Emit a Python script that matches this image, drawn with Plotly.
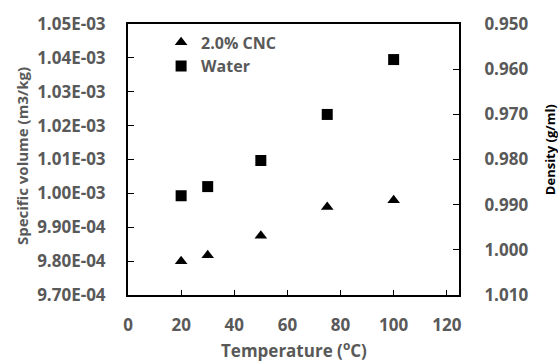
import plotly.graph_objects as go

temps = [20, 30, 50, 75, 100]
cnc_sv = [0.0009800, 0.0009817, 0.0009875, 0.0009960, 0.0009980]
water_sv = [0.0009993, 0.0010020, 0.0010097, 0.0010233, 0.0010395]
left_ticks = [0.00097, 0.00098, 0.00099, 0.00100, 0.00101, 0.00102, 0.00103, 0.00104, 0.00105]
left_labels = ["9.70E-04", "9.80E-04", "9.90E-04", "1.00E-03", "1.01E-03", "1.02E-03", "1.03E-03", "1.04E-03", "1.05E-03"]
right_ticks = [0.95, 0.96, 0.97, 0.98, 0.99, 1.00, 1.01]
right_labels = ["0.950", "0.960", "0.970", "0.980", "0.990", "1.000", "1.010"]

FONT = "Open Sans"
GREY = "#595959"

def f(size, color=GREY):
    return dict(family=FONT, size=size, color=color, weight=700)

fig = go.Figure()
fig.add_trace(go.Scatter(x=temps, y=cnc_sv, mode="markers", name="2.0% CNC",
                         marker=dict(symbol="triangle-up", size=11, color="black")))
fig.add_trace(go.Scatter(x=temps, y=water_sv, mode="markers", name="Water",
                         marker=dict(symbol="square", size=11, color="black")))
fig.add_trace(go.Scatter(x=[None], y=[None], yaxis="y2", showlegend=False, hoverinfo="skip"))

fig.update_layout(
    width=558, height=361,
    margin=dict(l=128, r=99, t=20, b=66),
    plot_bgcolor="white", paper_bgcolor="white",
    font=f(16),
    showlegend=True,
    legend=dict(x=0.10, y=0.995, xanchor="left", yanchor="top", bgcolor="rgba(0,0,0,0)",
                font=f(16), itemwidth=30, tracegroupgap=0),
    xaxis=dict(range=[0, 124.6], tickvals=[0, 20, 40, 60, 80, 100, 120],
               showgrid=False, zeroline=False, showline=True, linecolor="black", linewidth=2,
               mirror=True, ticks="inside", ticklen=5, tickcolor="black", tickwidth=1,
               ticklabelstandoff=14, tickfont=f(17)),
    yaxis=dict(range=[0.00097, 0.00105], tickvals=left_ticks, ticktext=left_labels,
               showgrid=False, zeroline=False, showline=True, linecolor="black", linewidth=2,
               ticks="inside", ticklen=6, tickcolor="black", tickwidth=1,
               ticklabelstandoff=17, tickfont=f(17)),
    yaxis2=dict(overlaying="y", side="right", range=[1.01, 0.95], tickvals=right_ticks,
                ticktext=right_labels,
                showgrid=False, zeroline=False, showline=True, linecolor="black", linewidth=2,
                ticks="inside", ticklen=6, tickcolor="black", tickwidth=1,
                ticklabelstandoff=20, tickfont=f(17)),
    annotations=[
        dict(text="Temperature (<sup>o</sup>C)", xref="paper", yref="paper", x=0.5, y=-0.2,
             xanchor="center", yanchor="middle", showarrow=False, font=f(17)),
        dict(text="Specific volume (m3/kg)", xref="paper", yref="paper", x=-0.32, y=0.513,
             xanchor="center", yanchor="middle", textangle=-90, showarrow=False, font=f(15)),
        dict(text="Density (g/ml)", xref="paper", yref="paper", x=1.275, y=0.5345,
             xanchor="center", yanchor="middle", textangle=-90, showarrow=False,
             font=f(13, "black")),
    ],
)

fig.write_html("out.html")
